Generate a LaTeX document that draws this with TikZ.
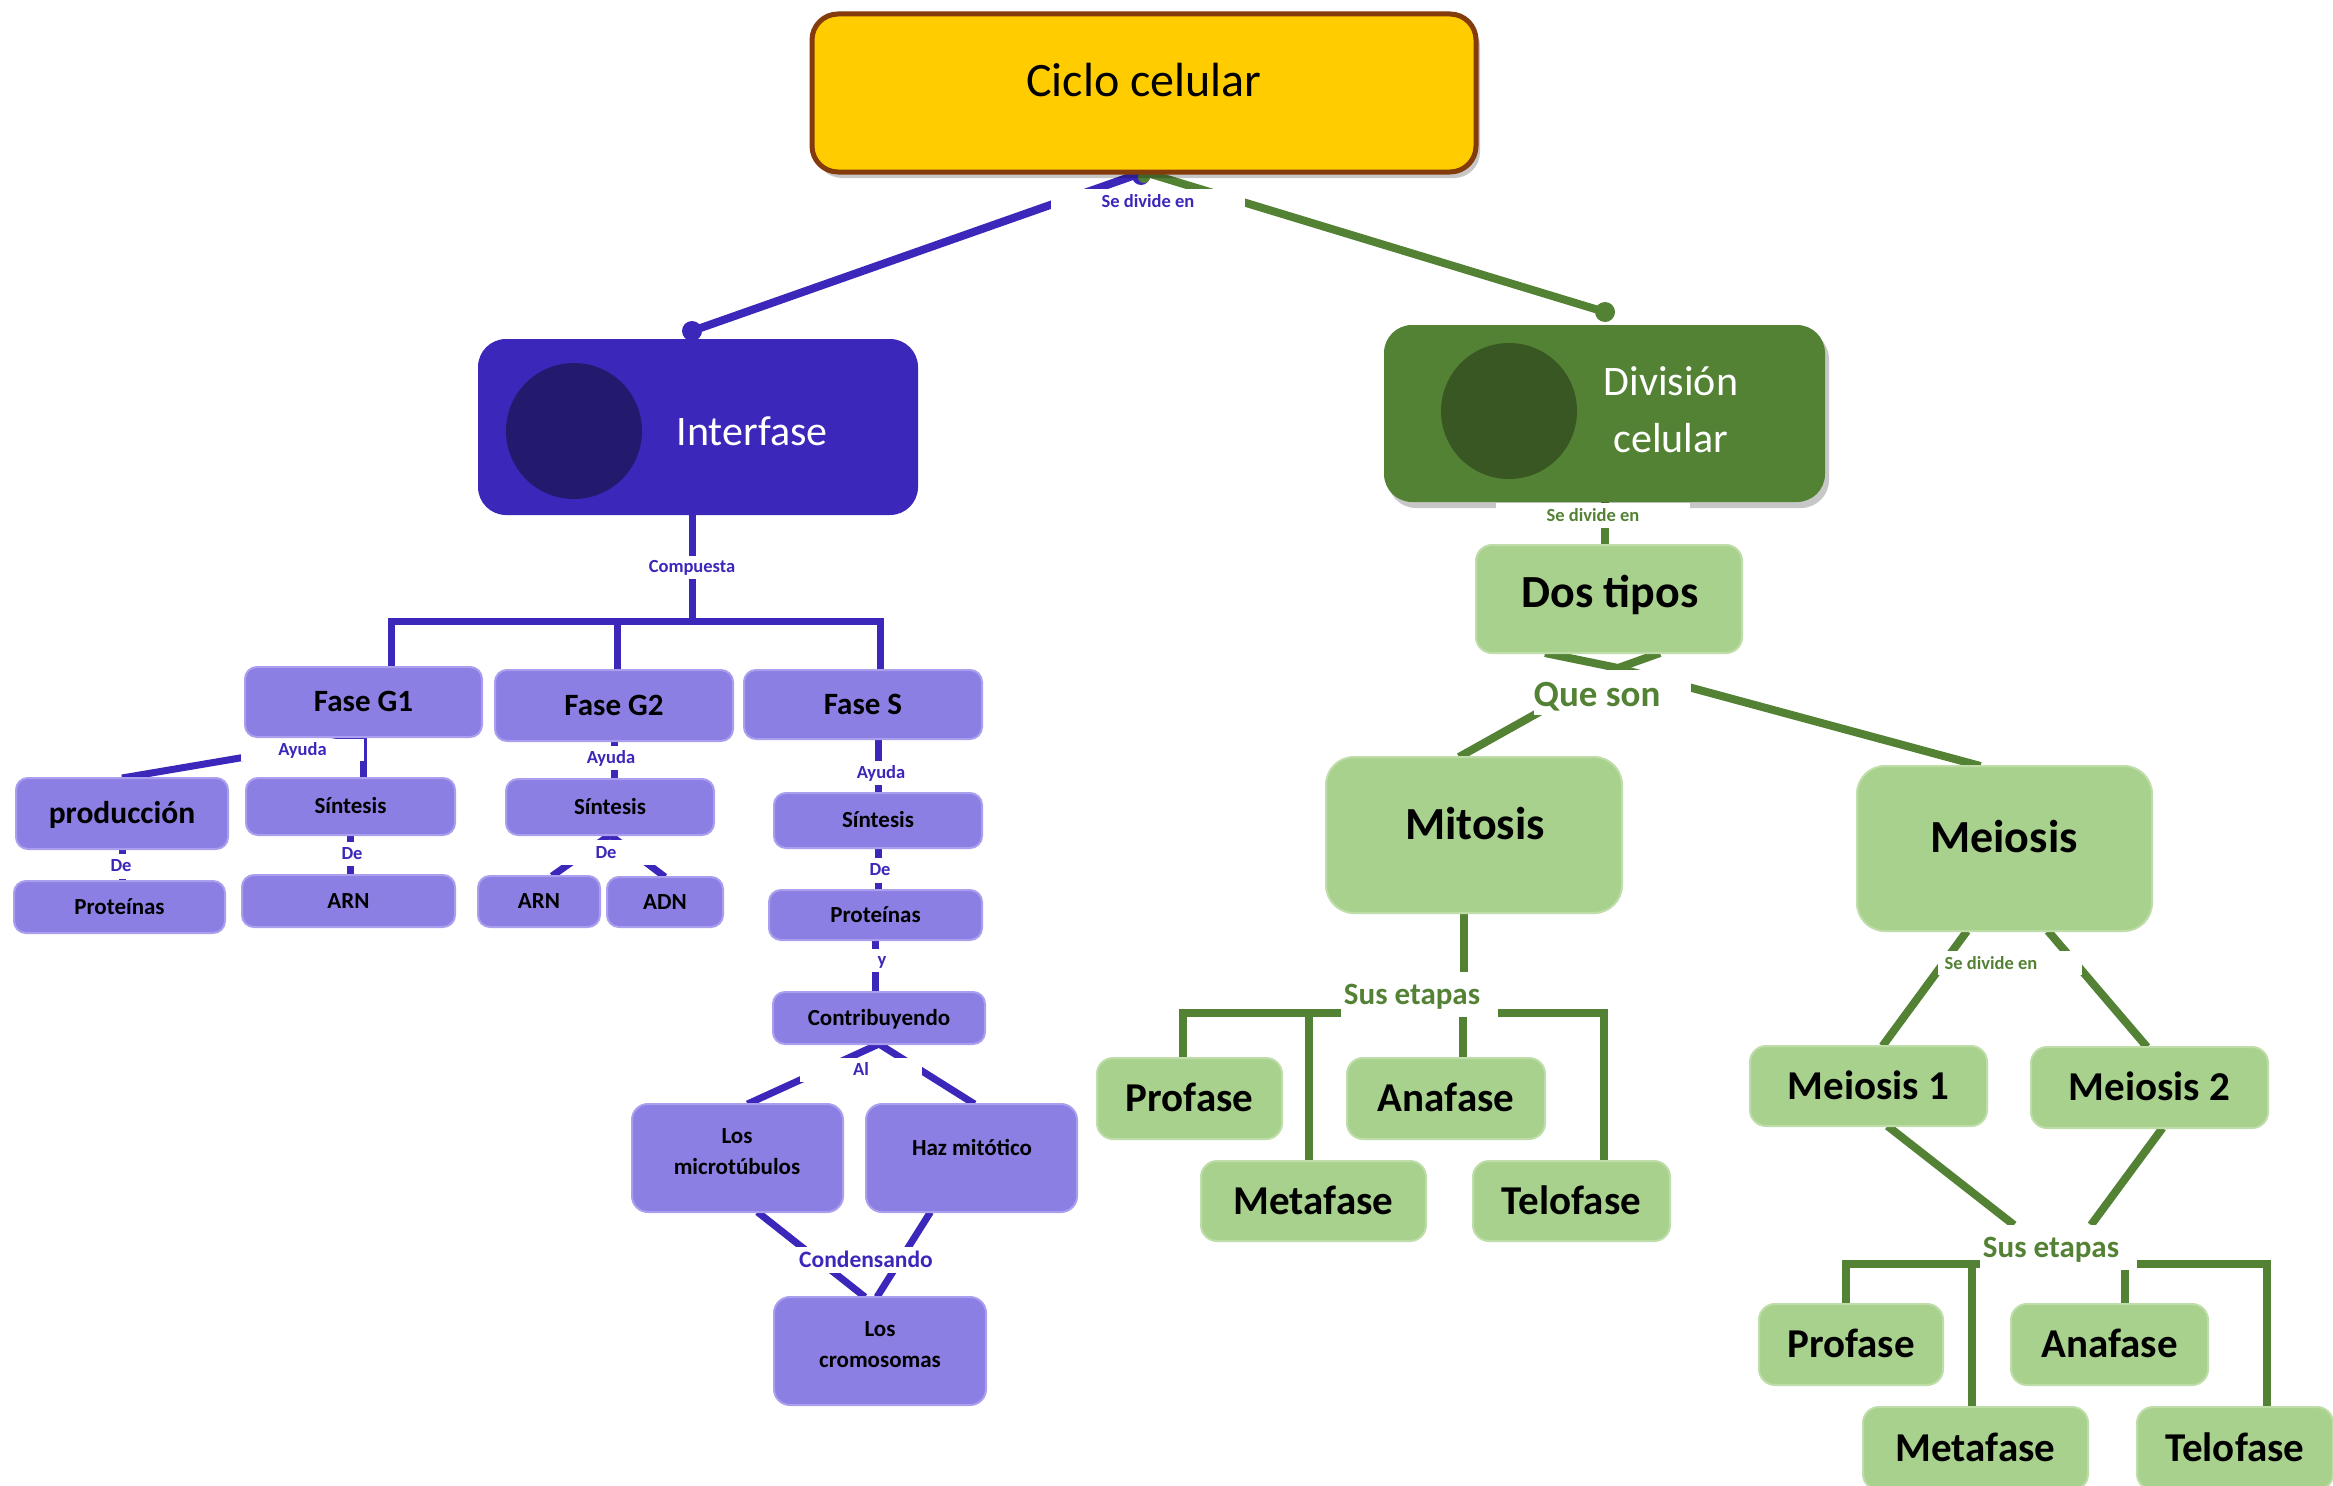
\documentclass[tikz,border=0pt]{standalone}
\usepackage{fontspec}
\setmainfont{Carlito}
\usetikzlibrary{shadows,backgrounds}
\definecolor{dblue}{HTML}{3B27BA}
\definecolor{lpur}{HTML}{8B7FE3}
\definecolor{lpurb}{HTML}{A99FEE}
\definecolor{dcirc}{HTML}{231A6E}
\definecolor{dgreen}{HTML}{548235}
\definecolor{gcirc}{HTML}{385723}
\definecolor{lgreen}{HTML}{A9D18E}
\definecolor{lgreenb}{HTML}{BEDDA9}
\definecolor{yel}{HTML}{FFCC00}
\definecolor{brn}{HTML}{843C0C}
\newcommand\bx[7]{\node[#1, minimum width={#5-#3}, minimum height={#6-#4}] (#2) at ({(#3+#5)/2},{(#4+#6)/2}) {#7};}
\begin{document}
\begin{tikzpicture}[x=1pt,y=-1pt,
 every node/.style={inner sep=0pt, outer sep=0pt},
 pbox/.style={rectangle, rounded corners=12pt, fill=lpur, draw=lpurb, line width=2pt, text=black},
 pboxr/.style={pbox, rounded corners=16pt},
 gbox/.style={rectangle, rounded corners=16pt, fill=lgreen, draw=lgreenb, line width=2pt, text=black},
 gboxr/.style={gbox, rounded corners=28pt},
 fF/.style={font=\bfseries\fontsize{31}{37}\selectfont, text height=19.5pt, text depth=0pt},
 fS/.style={font=\bfseries\fontsize{23}{31}\selectfont, text height=14.5pt, text depth=0pt},
 fSm/.style={font=\bfseries\fontsize{23}{31}\selectfont, align=center},
 fP/.style={font=\bfseries\fontsize{31.5}{38}\selectfont, text height=20pt, text depth=0pt},
 fB/.style={font=\bfseries\fontsize{46}{55}\selectfont, text height=29pt, text depth=0pt},
 fG/.style={font=\bfseries\fontsize{41}{49}\selectfont, text height=26pt, text depth=0pt},
 lbl/.style={fill=white, text height=11.5pt, text depth=0pt, font=\bfseries\fontsize{18.5}{22}\selectfont},
 blbl/.style={lbl, text=dblue},
 glbl/.style={lbl, text=dgreen},
 wbox/.style={fill=white},
 bl/.style={draw=dblue, line width=8pt},
 bls/.style={draw=dblue, line width=7pt},
 gr/.style={draw=dgreen, line width=8pt},
 shad/.style={drop shadow={shadow xshift=4pt, shadow yshift=-6pt, opacity=.22, fill=black}},
]
\useasboundingbox (0,0) rectangle (2333,1485);

% ---------- top ----------
\bx{rectangle, rounded corners=26pt, fill=yel, draw=brn, line width=5pt, shad}{ciclo}{812}{14}{1476}{172}{}
\node[font=\fontsize{48}{58}\selectfont, text height=30pt, text depth=0pt] (ciclot) at (1144,82) {Ciclo celular};

\bx{rectangle, rounded corners=28pt, fill=dblue}{interf}{478}{339}{918}{515}{}
\node[circle, fill=dcirc, minimum size=136pt] (icirc) at (574,431) {};
\node[text=white, font=\fontsize{42}{50}\selectfont, text height=26pt, text depth=0pt] (interft) at (752,432) {Interfase};

\bx{rectangle, rounded corners=28pt, fill=dgreen, shad}{divis}{1384}{325}{1825}{502}{}
\node[circle, fill=gcirc, minimum size=136pt] (dcircle) at (1509,411) {};
\node[align=center, text=white, font=\fontsize{42}{57}\selectfont] (divt) at (1671,410) {División\\celular};

\node[blbl, minimum width=194pt, minimum height=26pt] (sd1) at (1148,202) {Se divide en};
\node[blbl, minimum width=100pt, minimum height=23pt] (comp) at (692,567) {Compuesta};

% ---------- left (Interfase) ----------
\bx{pbox,fF}{g1}{245}{667}{482}{737}{Fase G1}
\bx{pbox,fF}{g2}{495}{670}{733}{741}{Fase G2}
\bx{pbox,fF}{fs}{744}{670}{982}{739}{Fase S}
\bx{pbox,fP}{prod}{16}{778}{228}{849}{producción}
\bx{pbox,fS}{sin1}{246}{778}{455}{835}{Síntesis}
\bx{pbox,fS}{sin2}{506}{779}{714}{835}{Síntesis}
\bx{pbox,fS}{protl}{14}{881}{225}{933}{Proteínas}
\bx{pbox,fS}{arn1}{242}{875}{455}{927}{ARN}
\bx{pbox,fS}{arn2}{478}{876}{600}{927}{ARN}
\bx{pbox,fS}{adn}{607}{877}{723}{927}{ADN}
\bx{pbox,fS}{sins}{774}{793}{982}{848}{Síntesis}
\bx{pbox,fS}{prots}{769}{890}{982}{940}{Proteínas}
\bx{pbox,fS}{con}{773}{992}{985}{1044}{Contribuyendo}
\bx{pboxr}{micro}{632}{1104}{843}{1212}{}
\bx{pboxr}{haz}{866}{1104}{1077}{1212}{}
\bx{pboxr}{crom}{774}{1297}{986}{1405}{}
\node[fSm] (microt) at (737,1152) {Los\\microtúbulos};
\node[fS] (hazt) at (972,1148) {Haz mitótico};
\node[fSm] (cromt) at (880,1345) {Los\\cromosomas};

\node[blbl, minimum width=123pt, minimum height=22pt] (ay1) at (302.5,749.5) {Ayuda};
\node[blbl, minimum width=40pt, minimum height=25pt] (de1) at (121,866) {De};
\node[blbl, minimum width=40pt, minimum height=24pt] (de2) at (352,854) {De};
\node[blbl, minimum width=70pt, minimum height=24pt] (ay2) at (611,758) {Ayuda};
\node[blbl, minimum width=100pt, minimum height=25pt] (de3) at (606,852.5) {De};
\node[blbl, minimum width=70pt, minimum height=24pt] (ay3) at (881,773) {Ayuda};
\node[blbl, minimum width=40pt, minimum height=25pt] (de4) at (880,870) {De};
\node[blbl, minimum width=30pt, minimum height=23pt] (yy) at (882,960) {y};
\node[blbl, minimum width=122pt, minimum height=24pt] (al) at (861,1070) {Al};
\node[blbl, font=\bfseries\fontsize{23.5}{28}\selectfont, text height=14.8pt, minimum width=150pt, minimum height=26pt] (cond) at (866,1260) {Condensando};

% ---------- right (División) ----------
\bx{gbox}{dos}{1476}{545}{1742}{653}{}
\node[fB] (dost) at (1610,593) {Dos tipos};
\bx{gboxr}{mit}{1326}{757}{1622}{913}{}
\node[fB] (mitt) at (1475,825) {Mitosis};
\bx{gboxr}{mei}{1857}{766}{2152}{931}{}
\node[fB] (meit) at (2004,838) {Meiosis};
\bx{gbox,fG}{pro1}{1097}{1058}{1282}{1139}{Profase}
\bx{gbox,fG}{ana1}{1347}{1058}{1545}{1139}{Anafase}
\bx{gbox,fG}{met1}{1201}{1161}{1426}{1241}{Metafase}
\bx{gbox,fG}{tel1}{1473}{1161}{1670}{1241}{Telofase}
\bx{gbox,fG}{m1}{1750}{1046}{1987}{1126}{Meiosis 1}
\bx{gbox,fG}{m2}{2031}{1047}{2268}{1128}{Meiosis 2}
\bx{gbox,fG}{pro2}{1759}{1304}{1943}{1385}{Profase}
\bx{gbox,fG}{ana2}{2011}{1304}{2208}{1385}{Anafase}
\bx{gbox,fG}{met2}{1863}{1407}{2088}{1490}{Metafase}
\bx{gbox,fG}{tel2}{2137}{1407}{2333}{1490}{Telofase}

\node[glbl, minimum width=194pt, minimum height=25pt] (sd2) at (1593,515.5) {Se divide en};
\node[wbox, minimum width=157pt, minimum height=45pt] (queson) at (1612.5,692.5) {};
\node[glbl, fill=none, font=\bfseries\fontsize{37}{44}\selectfont, text height=23pt] (quesont) at (1597,695) {Que son};
\node[wbox, minimum width=157pt, minimum height=45pt] (sus1) at (1419.5,994.5) {};
\node[glbl, fill=none, font=\bfseries\fontsize{31}{37}\selectfont, text height=19.5pt] (sus1t) at (1412,995) {Sus etapas};
\node[wbox, minimum width=144pt, minimum height=24pt] (sd3) at (2010,963) {};
\node[glbl, fill=none] (sd3t) at (1991,964) {Se divide en};
\node[wbox, minimum width=157pt, minimum height=45pt] (sus2) at (2058.5,1247.5) {};
\node[glbl, fill=none, font=\bfseries\fontsize{31}{37}\selectfont, text height=19.5pt] (sus2t) at (2051,1248) {Sus etapas};

% ---------- connectors ----------
\begin{pgfonlayer}{background}
\fill[white] (0,0) rectangle (2333,1485);
\draw[bl] (ciclo.south) -- ([shift={(-6,-8)}]interf.north);
\fill[dblue] ([shift={(-6,-8)}]interf.north) circle[radius=10pt];
\draw[gr] (ciclo.south) -- ([shift={(0.5,-13)}]divis.north);
\fill[dgreen] ([shift={(0.5,-13)}]divis.north) circle[radius=10pt];
\fill[dblue] ([shift={(-3,4)}]ciclo.south) circle[radius=9pt];
\fill[dgreen] ([shift={(0,5)}]ciclo.south) circle[radius=6pt];

\coordinate (ij) at (692,621);
\draw[bls] (ij) -- (ij |- interf.south);
\draw[bls] ([shift={(28,0)}]g1.north) |- (ij);
\draw[bls] ([shift={(3.5,0)}]g2.north) |- (ij);
\draw[bls] ([shift={(17,0)}]fs.north) |- (ij);

\draw[bls] (g1.south) -- (g1.south |- sin1.north);
\draw[bls] (g1.south) -- (prod.north);
\draw[bls] (prod.south) -- (prod.south |- protl.north);
\draw[bls] (sin1.south) -- (sin1.south |- arn1.north);
\draw[bls] (g2.south) -- (g2.south |- sin2.north);
\draw[bls] (sin2.south) -- ([shift={(13,0)}]arn2.north);
\draw[bls] (sin2.south) -- (adn.north);
\draw[bls] ([shift={(15,0)}]fs.south) -- (sins.north);
\draw[bls] (sins.south) -- (sins.south |- prots.north);
\draw[bls] (prots.south) -- (prots.south |- con.north);
\draw[bls] (con.south) -- ([shift={(10,0)}]micro.north);
\draw[bls] (con.south) -- ([shift={(3,0)}]haz.north);
\draw[bls] ([shift={(20,0)}]micro.south) -- ([shift={(-15,0)}]crom.north);
\draw[bls] ([shift={(-41,0)}]haz.south) -- ([shift={(-3,0)}]crom.north);

\draw[gr] (divis.south) -- (divis.south |- dos.north);
\coordinate (J) at (1618,668);
\draw[gr] ([shift={(-64,0)}]dos.south) -- (J) -- ([shift={(51,0)}]dos.south);
\draw[gr] (J) -- ([shift={(-15,0)}]mit.north);
\draw[gr] (J) -- ([shift={(-24,0)}]mei.north);

\coordinate (mj) at (1464,1013);
\draw[gr] ([shift={(-10,0)}]mit.south) -- (mj);
\draw[gr] ([shift={(-6.5,0)}]pro1.north) |- (mj);
\draw[gr] ([shift={(-4.5,0)}]met1.north) |- (mj);
\draw[gr] ([shift={(17,0)}]ana1.north) |- (mj);
\draw[gr] ([shift={(32.5,0)}]tel1.north) |- (mj);

\draw[gr] ([shift={(-37.5,0)}]mei.south) -- ([shift={(14,0)}]m1.north);
\draw[gr] ([shift={(43.5,0)}]mei.south) -- ([shift={(-2.5,0)}]m2.north);
\draw[gr] ([shift={(19,0)}]m1.south) -- ([shift={(-44.5,0)}]sus2.north);
\draw[gr] ([shift={(13,0)}]m2.south) -- ([shift={(32.5,0)}]sus2.north);

\coordinate (mj2) at (2058,1264);
\draw[gr] ([shift={(-5,0)}]pro2.north) |- (mj2);
\draw[gr] ([shift={(-3.5,0)}]met2.north) |- (mj2);
\draw[gr] ([shift={(15.5,0)}]ana2.north) |- (mj2);
\draw[gr] ([shift={(32,0)}]tel2.north) |- (mj2);
\end{pgfonlayer}
\end{tikzpicture}
\end{document}
